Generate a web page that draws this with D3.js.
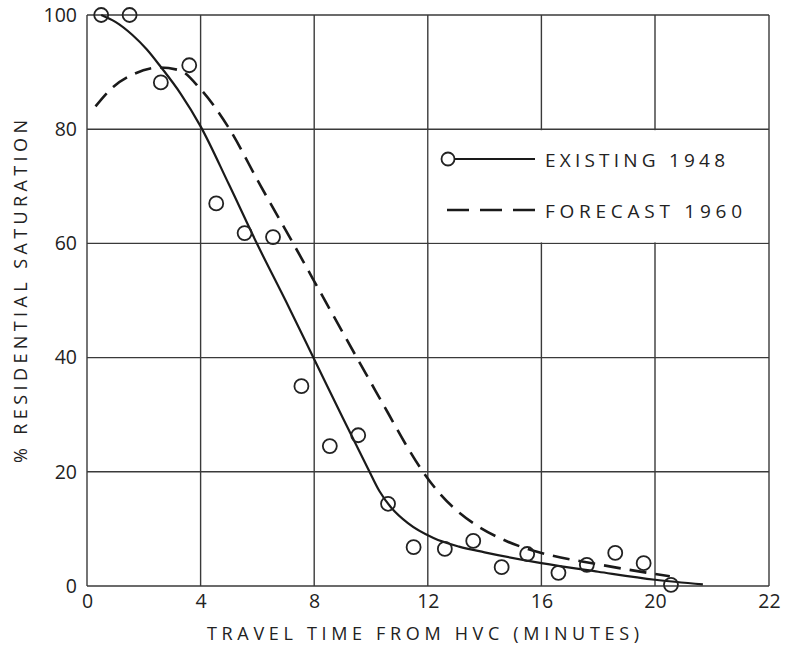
<!DOCTYPE html>
<html>
<head>
<meta charset="utf-8">
<script src="https://cdn.jsdelivr.net/npm/d3@7"></script>
<style>
  html, body { margin: 0; padding: 0; background: #fff; }
  text { font-family: "Open Sans", "DejaVu Sans", sans-serif; fill: #222; }
</style>
</head>
<body>
<svg id="chart" width="785" height="648"></svg>
<script>
// ---- data ----
const obsX = [0.5, 1.5, 2.6, 3.6, 4.55, 5.55, 6.55, 7.55, 8.55, 9.55, 10.6, 11.5, 12.6, 13.6, 14.6, 15.5, 16.6, 17.6, 18.6, 19.6, 20.28];
const obsY = [100, 100, 88.2, 91.2, 67, 61.8, 61.1, 35, 24.5, 26.4, 14.4, 6.8, 6.5, 7.9, 3.3, 5.6, 2.3, 3.7, 5.8, 4.0, 0.2];

const existX = [0.5, 1, 1.6, 2.1, 2.6, 3.3, 4, 5, 6, 7, 8, 9, 9.9, 10.3, 10.7, 11.3, 12.2, 13.1, 14, 16, 18, 20, 20.84];
const existY = [100, 98.8, 96.5, 94, 90.9, 86.2, 80.5, 70.3, 59.8, 49.9, 39.7, 29.5, 20.5, 16.6, 13.8, 11, 8.4, 6.9, 5.9, 4, 2.5, 1.1, 0.3];

const foreX = [0.3, 0.92, 1.62, 2.57, 3.27, 4, 4.97, 6.1, 7.26, 8.4, 9.5, 10.6, 11.2, 11.83, 12.4, 13, 13.6, 14.8, 16, 18, 20, 20.26];
const foreY = [84, 87.4, 89.6, 90.8, 90.3, 87, 80.4, 70.2, 60, 49.8, 40, 30.3, 25, 20, 16.3, 13.3, 11, 7.8, 5.8, 3.8, 2.1, 1.7];

const xTicks = [0, 4, 8, 12, 16, 20, 22];
const yTicks = [0, 20, 40, 60, 80, 100];

const xTitle = "TRAVEL TIME FROM HVC (MINUTES)";
const yTitle = "% RESIDENTIAL SATURATION";
const legendLabels = ["EXISTING 1948", "FORECAST 1960"];

// ---- drawing ----
const svg = d3.select("#chart");
const x = d3.scaleLinear().domain([0, 20, 22]).range([87, 655, 769]);
const y = d3.scaleLinear().domain([0, 100]).range([586, 15]);

const gridColor = "#3a3a3a";

// grid
const g = svg.append("g");
g.selectAll("line.vx").data(xTicks).enter().append("line")
  .attr("x1", d => x(d)).attr("x2", d => x(d))
  .attr("y1", y(0)).attr("y2", y(100))
  .attr("stroke", gridColor).attr("stroke-width", 1.4);
g.selectAll("line.hy").data(yTicks).enter().append("line")
  .attr("y1", d => y(d)).attr("y2", d => y(d))
  .attr("x1", x(0)).attr("x2", x(22))
  .attr("stroke", gridColor).attr("stroke-width", 1.4);

// legend box (white) covering grid between 12..22 and 60..80
svg.append("rect")
  .attr("x", x(12) + 1).attr("y", y(80) + 1)
  .attr("width", x(22) - x(12) - 2).attr("height", y(60) - y(80) - 2)
  .attr("fill", "#fff");

// axes labels
const xAxis = d3.axisBottom(x).tickValues(xTicks).tickSize(0).tickPadding(10).tickFormat(d3.format("d"));
const xa = svg.append("g").attr("transform", `translate(0,${y(0)})`).call(xAxis);
xa.select(".domain").remove();
xa.selectAll("text").style("font-size", "19.5px").attr("font-family", null).attr("fill", "#222").attr("dy", "0.75em").attr("y", 7);

const yAxis = d3.axisLeft(y).tickValues(yTicks).tickSize(0).tickPadding(10).tickFormat(d3.format("d"));
const ya = svg.append("g").attr("transform", `translate(${x(0)},0)`).call(yAxis);
ya.select(".domain").remove();
ya.selectAll("text").style("font-size", "19.5px").attr("font-family", null).attr("fill", "#222");

// titles
svg.append("text").text(xTitle)
  .attr("x", 207).attr("y", 640)
  .attr("textLength", 432).attr("lengthAdjust", "spacing")
  .style("font-size", "18px");
svg.append("text").text(yTitle)
  .attr("transform", "translate(27,463) rotate(-90)")
  .attr("textLength", 343).attr("lengthAdjust", "spacing")
  .style("font-size", "18px");

// curves
const line = d3.line().x(d => x(d[0])).y(d => y(d[1])).curve(d3.curveMonotoneX);
svg.append("path").datum(existX.map((v, i) => [v, existY[i]]))
  .attr("d", line).attr("fill", "none").attr("stroke", "#1a1a1a").attr("stroke-width", 2.2);
svg.append("path").datum(foreX.map((v, i) => [v, foreY[i]]))
  .attr("d", line).attr("fill", "none").attr("stroke", "#1a1a1a").attr("stroke-width", 2.6)
  .attr("stroke-dasharray", "17,9");

// observations
svg.selectAll("circle.obs").data(obsX.map((v, i) => [v, obsY[i]])).enter().append("circle")
  .attr("cx", d => x(d[0])).attr("cy", d => y(d[1])).attr("r", 7)
  .attr("fill", "none").attr("stroke", "#222").attr("stroke-width", 1.8);

// legend
const lg = svg.append("g");
lg.append("circle").attr("cx", 448).attr("cy", 159).attr("r", 6.5)
  .attr("fill", "none").attr("stroke", "#222").attr("stroke-width", 1.8);
lg.append("line").attr("x1", 454.5).attr("x2", 535).attr("y1", 159).attr("y2", 159)
  .attr("stroke", "#1a1a1a").attr("stroke-width", 2.2);
lg.append("line").attr("x1", 447).attr("x2", 535).attr("y1", 210).attr("y2", 210)
  .attr("stroke", "#1a1a1a").attr("stroke-width", 2.6).attr("stroke-dasharray", "22,11");
lg.append("text").text(legendLabels[0]).attr("x", 545).attr("y", 167)
  .attr("textLength", 180).attr("lengthAdjust", "spacing").style("font-size", "19px");
lg.append("text").text(legendLabels[1]).attr("x", 545).attr("y", 218)
  .attr("textLength", 197).attr("lengthAdjust", "spacing").style("font-size", "19px");
</script>
</body>
</html>
